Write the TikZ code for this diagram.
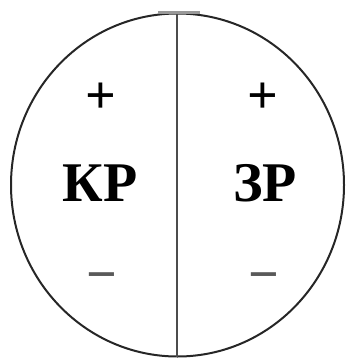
\documentclass[tikz,border=0pt]{standalone}
\usepackage{fontspec}
\setmainfont{Liberation Serif}
\begin{document}
\begin{tikzpicture}[x=1pt,y=-1pt,
  lbl/.style={font=\bfseries\fontsize{56}{60}\selectfont, inner sep=0pt, anchor=base},
  sgn/.style={font=\bfseries\fontsize{54}{60}\selectfont, inner sep=0pt}]
\useasboundingbox (0,0) rectangle (345,358);
\draw[line width=2pt, black!85] (177.5,185) ellipse [x radius=166.5, y radius=171.5];
\coordinate (top) at (177,13.5);
\coordinate (bot) at (177,356.5);
\draw[line width=2pt, black!70] (top) -- (bot);
\draw[line width=3pt, black!40] (158,13) -- (200,13);
\node[lbl] (kp) at (100,201) {КР};
\node[lbl] (zp) at (265,201) {ЗР};
\node[sgn] (p1) at (101,98) {+};
\node[sgn] (p2) at (263,98) {+};
\node[sgn, text=black!65] (m1) at (102,283) {−};
\node[sgn, text=black!65] (m2) at (264,283) {−};
\end{tikzpicture}
\end{document}
